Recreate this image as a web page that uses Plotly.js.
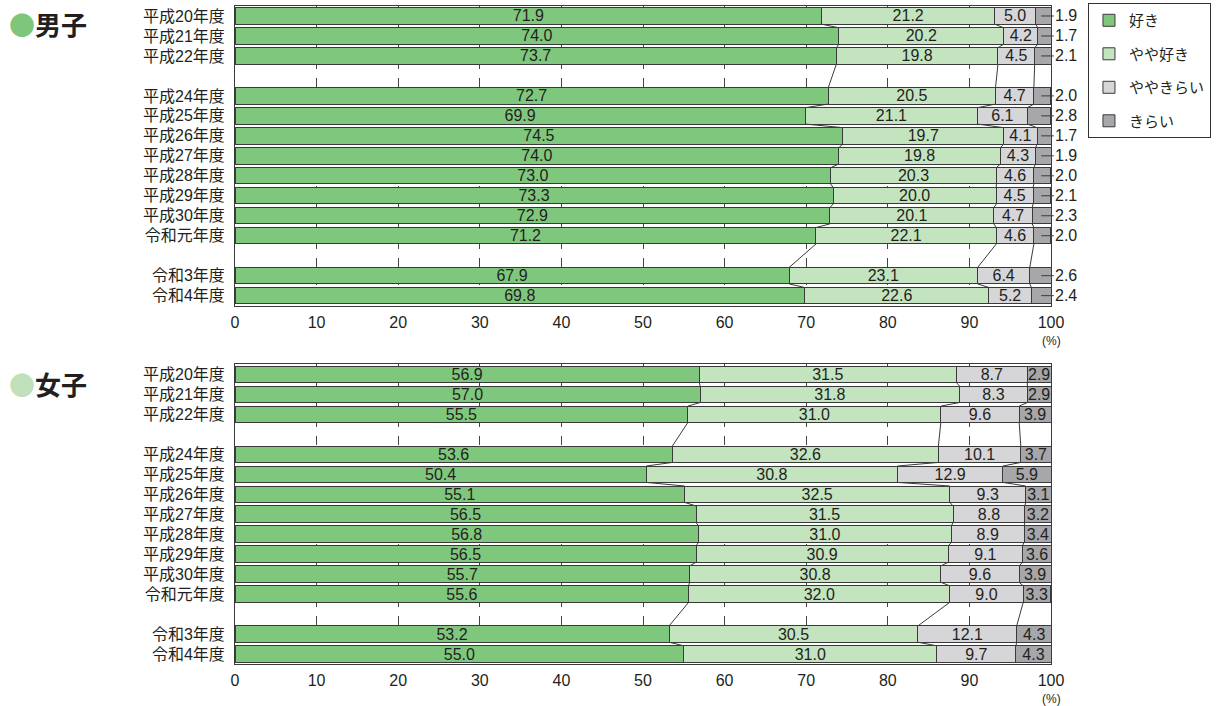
<!DOCTYPE html>
<html>
<head>
<meta charset="utf-8">
<script src="https://cdn.plot.ly/plotly-3.0.1.min.js"></script>
<style>html,body{margin:0;padding:0;background:#fff;}#chart{width:1218px;height:706px;}</style>
</head>
<body>
<div id="chart"></div>
<script>
// ---- data ----
const yearLabels = ['平成20年度','平成21年度','平成22年度','平成24年度','平成25年度','平成26年度','平成27年度','平成28年度','平成29年度','平成30年度','令和元年度','令和3年度','令和4年度'];
const rowPos = [0,1,2,4,5,6,7,8,9,10,11,13,14];
const seriesNames = ['好き','やや好き','ややきらい','きらい'];

const boysLike = [71.9,74.0,73.7,72.7,69.9,74.5,74.0,73.0,73.3,72.9,71.2,67.9,69.8];
const boysSomewhatLike = [21.2,20.2,19.8,20.5,21.1,19.7,19.8,20.3,20.0,20.1,22.1,23.1,22.6];
const boysSomewhatDislike = [5.0,4.2,4.5,4.7,6.1,4.1,4.3,4.6,4.5,4.7,4.6,6.4,5.2];
const boysDislike = [1.9,1.7,2.1,2.0,2.8,1.7,1.9,2.0,2.1,2.3,2.0,2.6,2.4];

const girlsLike = [56.9,57.0,55.5,53.6,50.4,55.1,56.5,56.8,56.5,55.7,55.6,53.2,55.0];
const girlsSomewhatLike = [31.5,31.8,31.0,32.6,30.8,32.5,31.5,31.0,30.9,30.8,32.0,30.5,31.0];
const girlsSomewhatDislike = [8.7,8.3,9.6,10.1,12.9,9.3,8.8,8.9,9.1,9.6,9.0,12.1,9.7];
const girlsDislike = [2.9,2.9,3.9,3.7,5.9,3.1,3.2,3.4,3.6,3.9,3.3,4.3,4.3];

const xTicks = [0,10,20,30,40,50,60,70,80,90,100];

// ---- styles ----
const colors = ['#80c77e','#c4e4bf','#d6d6d9','#a7a7ab'];
const lineCol = '#3a3a3a';
const BW = 0.82;
const fontFam = 'Liberation Sans, "Noto Sans CJK JP", sans-serif';
const txtCol = '#231f20';

const traces = [];
const shapes = [];
const annotations = [];

function fmt(v){ return v.toFixed(1); }

function addChart(series, xa, ya, legend, outsideLast) {
  series.forEach((vals, k) => {
    const showText = !(outsideLast && k === 3);
    traces.push({
      type: 'bar', orientation: 'h',
      x: vals, y: rowPos,
      xaxis: xa, yaxis: ya,
      width: BW,
      name: seriesNames[k],
      legendgroup: 'g' + k,
      showlegend: legend,
      marker: {color: colors[k], line: {color: lineCol, width: 1}},
      text: showText ? vals.map(fmt) : vals.map(() => ''),
      textposition: 'inside',
      insidetextanchor: 'middle',
      textangle: 0,
      constraintext: 'none',
      insidetextfont: {size: 16, color: txtCol, family: fontFam},
      hoverinfo: 'x+name'
    });
  });
  // connector lines between consecutive bars
  const cx = [], cy = [];
  for (let k = 0; k < 3; k++) {
    const cum = rowPos.map((_, i) => {
      let s = 0; for (let j = 0; j <= k; j++) s += series[j][i]; return s;
    });
    for (let i = 0; i < rowPos.length - 1; i++) {
      cx.push(cum[i], cum[i+1], null);
      cy.push(rowPos[i] + BW/2, rowPos[i+1] - BW/2, null);
    }
  }
  traces.push({type:'scatter', mode:'lines', x: cx, y: cy, xaxis: xa, yaxis: ya,
    line:{color: lineCol, width: 1}, showlegend:false, hoverinfo:'skip'});
  if (outsideLast) {
    const last = series[3];
    last.forEach((v, i) => {
      shapes.push({type:'line', xref: 'paper', yref: ya, x0: 0.988, x1: 1.0035, y0: rowPos[i], y1: rowPos[i],
        line:{color: lineCol, width: 1}});
      annotations.push({xref: 'paper', yref: ya, x: 1.0025, y: rowPos[i], text: fmt(v), showarrow:false,
        xanchor:'left', yanchor:'middle', font:{size:16, color: txtCol, family: fontFam}});
    });
  }
}

addChart([boysLike, boysSomewhatLike, boysSomewhatDislike, boysDislike], 'x', 'y', true, true);
addChart([girlsLike, girlsSomewhatLike, girlsSomewhatDislike, girlsDislike], 'x2', 'y2', false, false);

// titles
annotations.push({xref:'paper', yref:'paper', x:-0.2795, y:0.973, xanchor:'left', yanchor:'middle', showarrow:false,
  text:'<span style="color:#7dc67b">●</span><b>男子</b>', font:{size:26, color: txtCol, family: '"Noto Sans CJK JP", sans-serif'}});
annotations.push({xref:'paper', yref:'paper', x:-0.2795, y:0.427, xanchor:'left', yanchor:'middle', showarrow:false,
  text:'<span style="color:#bfe0ba">●</span><b>女子</b>', font:{size:26, color: txtCol, family: '"Noto Sans CJK JP", sans-serif'}});
// (%) labels
['y','y2'].forEach((yr, idx) => {
  annotations.push({xref: 'paper', yref: 'paper', x: 1, y: idx === 0 ? 0.5446 : 0, yshift: -35, xanchor:'center', yanchor:'middle',
    showarrow:false, text:'(%)', font:{size:12, color: txtCol, family: fontFam}});
});

function xAxis(anchor) {
  return {anchor: anchor, range:[0,100], tickvals: xTicks, ticktext: xTicks.map(String),
    showgrid:true, gridcolor:'#444', griddash:'dash', gridwidth:1,
    showline:true, mirror:true, linecolor:lineCol, linewidth:1,
    ticks:'', zeroline:false, ticklabelstandoff: 2, tickfont:{size:16, color: txtCol}, fixedrange:true};
}
function yAxis(anchor, domain) {
  return {anchor: anchor, domain: domain, range:[14.5,-0.5], tickvals: rowPos, ticktext: yearLabels,
    showgrid:false, zeroline:false, showline:true, mirror:true, linecolor:lineCol, linewidth:1,
    ticks:'', ticklabelstandoff: 6, tickfont:{size:16, color: txtCol}, fixedrange:true};
}

const layout = {
  width:1218, height:706,
  margin:{l:235, r:167, t:3, b:42},
  paper_bgcolor:'#fff', plot_bgcolor:'#fff',
  font:{family: fontFam, color: txtCol},
  barmode:'stack',
  xaxis: xAxis('y'),
  yaxis: yAxis('x', [0.5446, 1]),
  xaxis2: xAxis('y2'),
  yaxis2: yAxis('x2', [0, 0.4554]),
  showlegend:true,
  legend:{x:1.0453, xanchor:'left', y:1.0045, yanchor:'top', traceorder:'grouped', tracegroupgap:11,
    bordercolor:'#333', borderwidth:1, bgcolor:'#fff', font:{size:15, color: txtCol},
    entrywidth:126, itemwidth:30},
  shapes: shapes,
  annotations: annotations
};

Plotly.newPlot('chart', traces, layout, {displayModeBar:false, staticPlot:true});
</script>
</body>
</html>
